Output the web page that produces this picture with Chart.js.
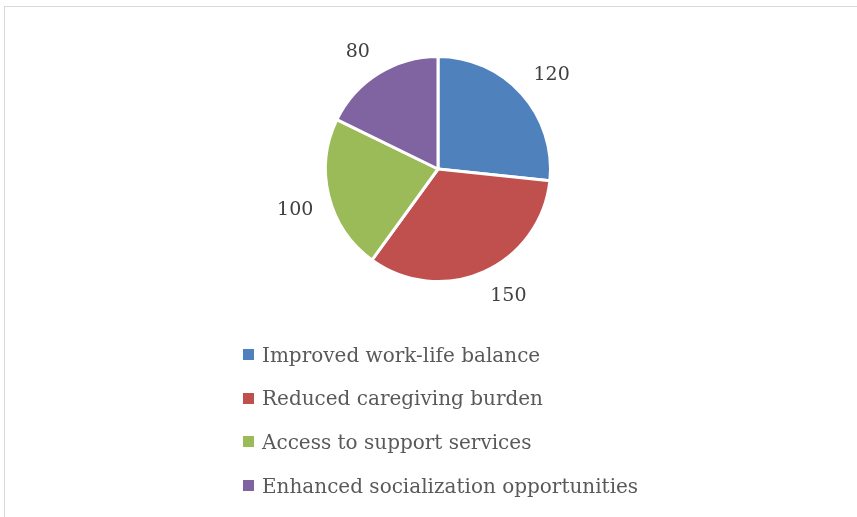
<!DOCTYPE html>
<html>
<head>
<meta charset="utf-8">
<script src="https://cdn.jsdelivr.net/npm/chart.js@4.4.1/dist/chart.umd.min.js"></script>
<style>
  html, body { margin: 0; padding: 0; background: #fff; }
  #wrap { position: relative; width: 857px; height: 517px; overflow: hidden; }
  #frame { position: absolute; left: 4px; top: 6px; width: 900px; height: 600px; border: 1px solid #d9d9d9; box-sizing: border-box; }
  #chart { position: absolute; left: 0; top: 0; }
  #legend { position: absolute; left: 243px; top: 333px; font-family: 'DejaVu Serif', serif; font-size: 20px; color: #595959; }
  .leg-row { height: 43.6px; display: flex; align-items: center; white-space: nowrap; }
  .leg-box { width: 11px; height: 11px; margin-right: 8px; flex: none; }
</style>
</head>
<body>
<div id="wrap">
  <div id="frame"></div>
  <canvas id="chart" width="857" height="517"></canvas>
  <div id="legend"></div>
</div>
<script>
var categories = ['Improved work-life balance', 'Reduced caregiving burden', 'Access to support services', 'Enhanced socialization opportunities'];
var values = [120, 150, 100, 80];
var colors = ['#4f81bd', '#c0504d', '#9bbb59', '#8064a2'];

// value labels outside each slice, nearest corner of the text box on the mid ray
var outsideLabels = {
  id: 'outsideLabels',
  afterDatasetsDraw: function(chart) {
    var ctx = chart.ctx;
    var meta = chart.getDatasetMeta(0);
    ctx.save();
    ctx.font = '19px "DejaVu Serif", serif';
    ctx.fillStyle = '#404040';
    meta.data.forEach(function(arc, i) {
      var p = arc.getProps(['x', 'y', 'startAngle', 'endAngle', 'outerRadius'], true);
      var mid = (p.startAngle + p.endAngle) / 2;
      var r = p.outerRadius + 16;
      var c = Math.cos(mid), s = Math.sin(mid);
      ctx.textAlign = c >= 0 ? 'left' : 'right';
      ctx.textBaseline = s >= 0 ? 'top' : 'bottom';
      ctx.fillText(String(values[i]), p.x + c * r, p.y + s * r + (s >= 0 ? 0 : 2));
    });
    ctx.restore();
  }
};

new Chart(document.getElementById('chart').getContext('2d'), {
  type: 'pie',
  data: { labels: categories, datasets: [{ data: values, backgroundColor: colors, borderColor: '#ffffff', borderWidth: 3, hoverOffset: 0 }] },
  options: {
    responsive: false,
    animation: false,
    layout: { padding: { left: 324, right: 305, top: 55, bottom: 234 } },
    plugins: { legend: { display: false }, tooltip: { enabled: false } }
  },
  plugins: [outsideLabels]
});

var html = '';
for (var i = 0; i < categories.length; i++) {
  html += '<div class="leg-row"><span class="leg-box" style="background:' + colors[i] + '"></span>' + categories[i] + '</div>';
}
document.getElementById('legend').innerHTML = html;
</script>
</body>
</html>
